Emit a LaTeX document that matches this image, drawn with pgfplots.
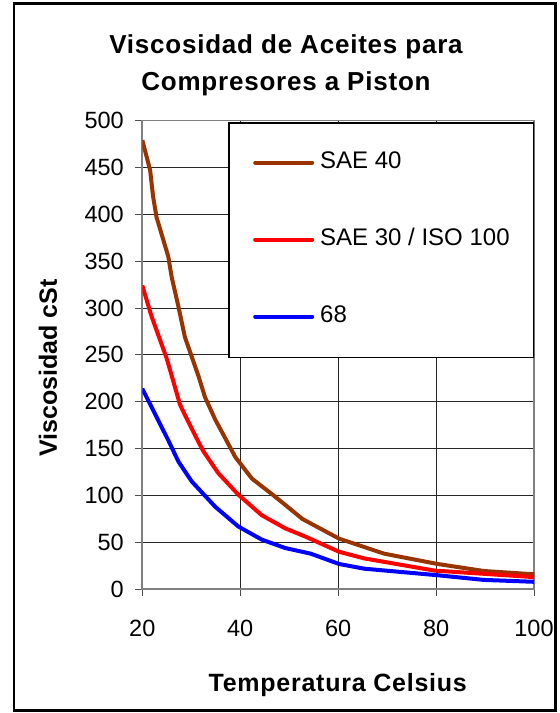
\documentclass[border=0pt]{standalone}
\usepackage{fontspec}
\setmainfont{Liberation Sans}
\newfontfamily\spacedbold[LetterSpace=3]{Liberation Sans}
\usepackage{pgfplots}
\pgfplotsset{compat=1.18}

\definecolor{saebrown}{RGB}{153,51,0}

\begin{document}
\begin{tikzpicture}[x=1pt,y=1pt]
\useasboundingbox (0,0) rectangle (560,713);
\fill[white] (0,0) rectangle (560,713);

\begin{axis}[
    at={(142.3pt,123.7pt)}, anchor=south west,
    scale only axis,
    width=391.7pt, height=468.8pt,
    xmin=20, xmax=100, ymin=0, ymax=500,
    xtick={20,40,60,80,100},
    ytick={0,50,100,150,200,250,300,350,400,450,500},
    xtick pos=lower, ytick pos=left,
    tick align=outside,
    major tick length=7pt,
    tick style={black!70, line width=1pt},
    grid=major,
    major grid style={black!85, line width=0.9pt},
    axis line style={draw=black!50, line width=1.8pt},
    /pgf/number format/assume math mode=true,
    ticklabel style={font=\fontsize{23.5}{26}\selectfont},
    xticklabel style={yshift=-20pt},
    yticklabel style={xshift=-8pt},
    xlabel={\textbf{Temperatura Celsius}},
    xlabel style={font=\fontsize{25}{28}\spacedbold\bfseries, at={(axis description cs:0.5,-0.219)}, anchor=base},
    ylabel={\textbf{Viscosidad cSt}},
    ylabel style={font=\fontsize{25}{28}\selectfont, at={(axis description cs:-0.218,0.472)}, anchor=base},
    legend style={at={(axis description cs:0.2826,0.9364)}, anchor=north west,
        draw=none, fill=none, inner sep=0pt, row sep=53pt, column sep=6pt,
        nodes={inner sep=0pt, text height=18pt, text depth=6pt,
               font=\fontsize{24}{27}\selectfont}},
    legend cell align=left,
    legend image code/.code={\draw[#1, line cap=round] (2pt,0pt) -- (59pt,0pt);},
    every axis plot/.append style={line width=4pt, line join=round},
]
\addplot[saebrown] coordinates {
    (20,479) (21.6,447) (22.2,419) (22.9,397) (25.3,355) (26.0,333)
    (27.4,301) (28.7,269) (30.1,248) (31.5,227) (32.8,205) (34.9,181)
    (39.0,141) (42.4,118) (46.6,101) (49.2,90) (52.7,75) (60.2,54)
    (69.4,38) (80.3,27) (89.8,19.5) (100,16)
};
\addlegendentry{SAE 40}
\addplot[red] coordinates {
    (20,324) (21.9,291) (25.0,246) (27.7,197) (28.7,186) (31.1,161)
    (32.5,147) (35.5,124) (39.6,101) (44.4,79) (49.2,65) (53.4,56)
    (60.2,40) (65.3,33) (79.6,20) (100,13)
};
\addlegendentry{SAE 30 / ISO 100}
\addplot[blue] coordinates {
    (20,214) (25.3,159) (27.4,136) (30.1,115) (34.9,88) (39.6,67)
    (44.4,53) (49.2,44) (54.4,38) (60.2,27) (65.3,22) (80.3,15)
    (89.8,10) (100,8)
};
\addlegendentry{68}
% legend frame
\draw[black, line width=1.2pt, fill=white]
    (rel axis cs:0.2213,0.4953) rectangle (rel axis cs:1,0.9947);
\end{axis}

% chart title
\node[anchor=base, font=\fontsize{26}{30}\spacedbold\bfseries] at (286,659) {Viscosidad de Aceites para};
\node[anchor=base, font=\fontsize{26}{30}\spacedbold\bfseries] at (286,622) {Compresores a Piston};

% outer frame
\draw[black, line width=2.8pt] (14,2.5) rectangle (555.5,709.4);
\end{tikzpicture}
\end{document}
